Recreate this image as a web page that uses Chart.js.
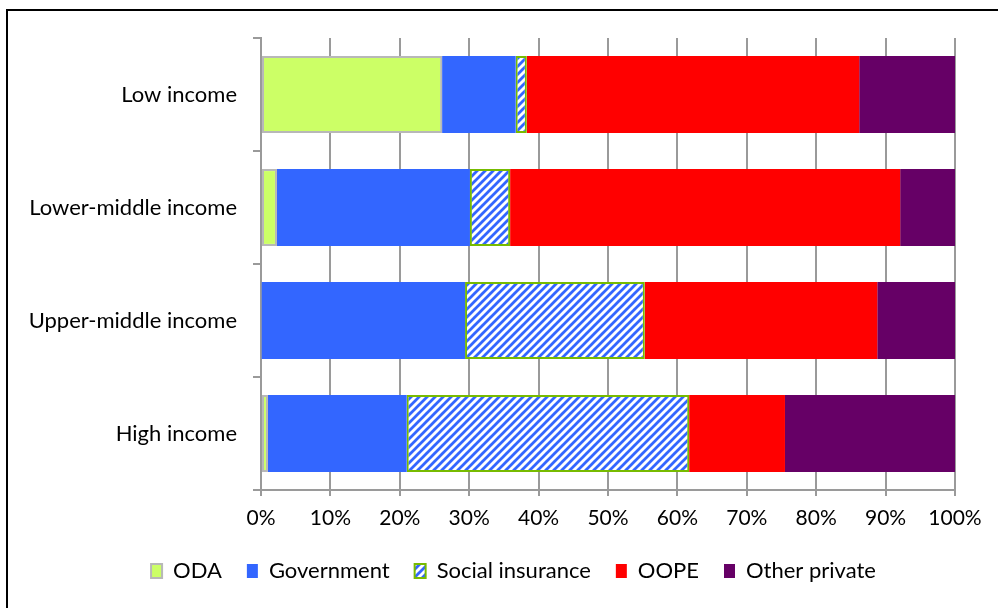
<!DOCTYPE html>
<html>
<head>
<meta charset="utf-8">
<script src="https://cdn.jsdelivr.net/npm/chart.js@4/dist/chart.umd.min.js"></script>
<style>
  body { margin: 0; background: #fff; }
  #wrap { position: relative; width: 998px; height: 608px; }
  #frame { position: absolute; left: 6px; top: 9px; right: 0; bottom: 0; border-left: 2px solid #000; border-top: 2px solid #000; pointer-events: none; }
  canvas { position: absolute; left: 0; top: 0; }
</style>
</head>
<body>
<div id="wrap">
  <canvas id="mycanvas" width="998" height="608"></canvas>
  <div id="frame"></div>
</div>
<script>
// income groups, top to bottom
var groups = ['Low income', 'Lower-middle income', 'Upper-middle income', 'High income'];
// share of health spending, %
var oda = [26.1, 2.3, 0.1, 1.0];
var government = [10.6, 27.8, 29.3, 20.0];
var socialInsurance = [1.6, 5.8, 25.9, 40.7];
var oope = [47.9, 56.2, 33.5, 13.8];
var otherPrivate = [13.8, 7.9, 11.2, 24.5];
var xTicks = ['0%', '10%', '20%', '30%', '40%', '50%', '60%', '70%', '80%', '90%', '100%'];

function hatch() {
    var s = 8;
    var c = document.createElement('canvas');
    c.width = s; c.height = s;
    var g = c.getContext('2d');
    g.fillStyle = '#fff';
    g.fillRect(0, 0, s, s);
    g.strokeStyle = '#3366ff';
    g.lineWidth = 2.8;
    g.beginPath();
    g.moveTo(-s, s); g.lineTo(s, -s);
    g.moveTo(0, s); g.lineTo(s, 0);
    g.moveTo(0, s * 2); g.lineTo(s * 2, 0);
    g.stroke();
    return g.createPattern(c, 'repeat');
}

// nudge the legend right so it sits under the plot like the original
var shiftLegend = {
    id: 'shiftLegend',
    afterLayout: function(chart) {
        chart.legend.left += 72;
        chart.legend.right += 0;
    }
};

var font = "Lato, 'Open Sans', sans-serif";
var ctx = document.getElementById('mycanvas');

var barGraph = new Chart(ctx, {
    type: 'bar',
    data: {
        labels: groups,
        datasets: [
            { label: 'ODA', data: oda, backgroundColor: '#ccff66', borderColor: '#b8b8b8', borderWidth: 2 },
            { label: 'Government', data: government, backgroundColor: '#3366ff', borderWidth: 0 },
            { label: 'Social insurance', data: socialInsurance, backgroundColor: hatch(), borderColor: '#77bb00', borderWidth: 2 },
            { label: 'OOPE', data: oope, backgroundColor: '#ff0000', borderWidth: 0 },
            { label: 'Other private', data: otherPrivate, backgroundColor: '#660066', borderWidth: 0 }
        ]
    },
    plugins: [shiftLegend],
    options: {
        indexAxis: 'y',
        responsive: false,
        animation: false,
        categoryPercentage: 1,
        barPercentage: 0.68,
        layout: { padding: { left: 0, right: 43, top: 38, bottom: 16 } },
        datasets: { bar: { borderSkipped: false } },
        scales: {
            x: {
                stacked: true,
                min: 0,
                max: 100,
                grid: { color: '#9a9a9a', lineWidth: 2, tickLength: 6 },
                border: { color: '#9a9a9a', width: 2 },
                ticks: {
                    stepSize: 10,
                    padding: 10,
                    color: '#000',
                    font: { family: font, size: 21 },
                    callback: function(v, i) { return xTicks[i]; }
                },
                afterFit: function(s) { s.height = 45; }
            },
            y: {
                stacked: true,
                grid: { drawOnChartArea: false, color: '#9a9a9a', lineWidth: 2, tickLength: 8 },
                border: { color: '#9a9a9a', width: 2 },
                ticks: { padding: 16, color: '#000', font: { family: font, size: 22 } },
                afterFit: function(s) { s.width = 261; }
            }
        },
        plugins: {
            legend: {
                position: 'bottom',
                labels: {
                    boxWidth: 11,
                    boxHeight: 14,
                    padding: 25,
                    color: '#000',
                    font: { family: font, size: 22 }
                }
            },
            tooltip: { enabled: false }
        }
    }
});
</script>
</body>
</html>
